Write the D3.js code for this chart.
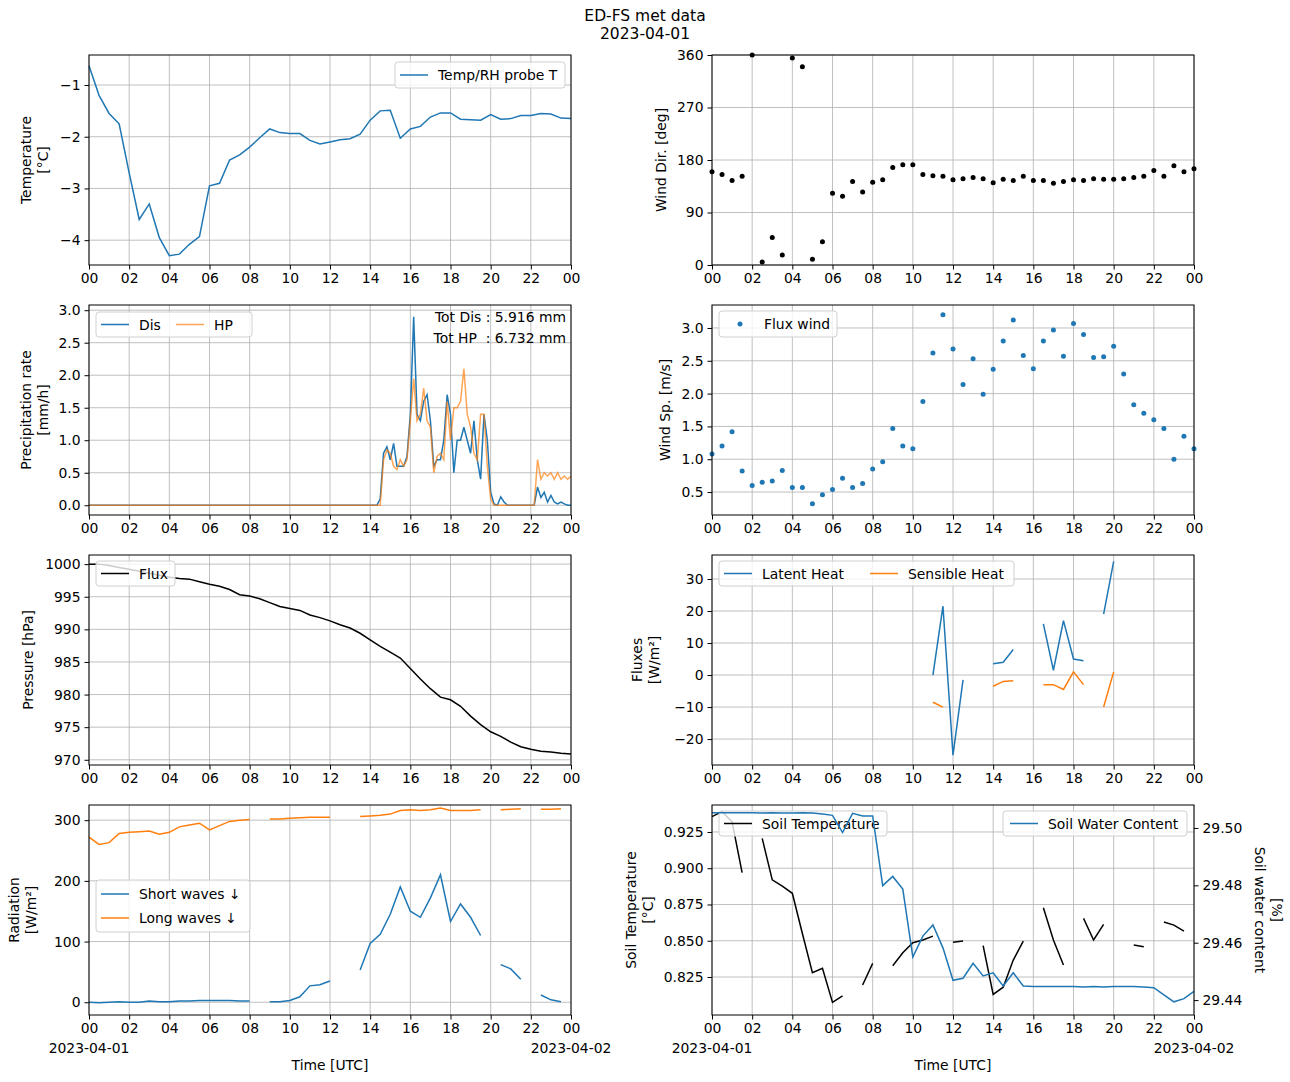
<!DOCTYPE html>
<html>
<head>
<meta charset="utf-8">
<script src="https://cdn.jsdelivr.net/npm/d3@7"></script>
<style>
  body { margin: 0; background: #fff; }
  text { font-family: "DejaVu Sans", sans-serif; fill: #000; }
</style>
</head>
<body>
<svg id="chart" width="1290" height="1082"></svg>
<script>
// half-hourly series, hour 0 .. 24
const hours = d3.range(0, 24.5, 0.5)
const tempT = [-0.63,-1.2,-1.55,-1.75,-2.7,-3.6,-3.3,-3.95,-4.3,-4.27,-4.08,-3.93,-2.95,-2.9,-2.45,-2.35,-2.2,-2.02,-1.85,-1.92,-1.94,-1.94,-2.07,-2.14,-2.1,-2.06,-2.04,-1.95,-1.68,-1.5,-1.49,-2.03,-1.85,-1.8,-1.62,-1.54,-1.54,-1.66,-1.67,-1.68,-1.57,-1.66,-1.65,-1.59,-1.59,-1.55,-1.56,-1.64,-1.65]
const windDir = [160,155,145,152,360,5,47,17,355,340,10,40,123,118,143,125,142,146,167,172,172,155,153,152,146,148,150,148,141,147,145,152,145,145,140,143,146,145,148,147,147,148,150,152,162,152,170,160,165]
const windSp = [1.08,1.2,1.42,0.82,0.6,0.65,0.67,0.83,0.57,0.57,0.32,0.46,0.54,0.71,0.57,0.63,0.85,0.96,1.47,1.2,1.16,1.88,2.62,3.2,2.68,2.14,2.53,1.99,2.37,2.8,3.12,2.58,2.38,2.8,2.97,2.57,3.07,2.9,2.55,2.56,2.72,2.3,1.83,1.7,1.6,1.47,1.0,1.35,1.16]
const pressure = [1000,1000,999.8,999.5,999.2,998.9,998.6,998.3,998,997.8,997.7,997.3,996.9,996.6,996.1,995.3,995.1,994.7,994.1,993.5,993.2,992.9,992.2,991.8,991.3,990.7,990.2,989.4,988.4,987.4,986.5,985.6,984.0,982.4,980.9,979.6,979.2,978.2,976.7,975.4,974.3,973.6,972.7,972.0,971.6,971.3,971.2,971.0,970.9]
const N = null
const latentHeat = [N,N,N,N,N,N,N,N,N,N,N,N,N,N,N,N,N,N,N,N,N,N,0,21.5,-25,-1.5,N,N,3.5,4,8,N,N,16,1.5,17,5,4.5,N,19,35.5,N,N,N,N,N,N,N,N]
const sensibleHeat = [N,N,N,N,N,N,N,N,N,N,N,N,N,N,N,N,N,N,N,N,N,N,-8.5,-10,N,N,N,N,-3.5,-2,-1.8,N,N,-3,-3,-4.5,1,-3,N,-10,1,N,N,N,N,N,N,N,N]
const shortWaves = [0,-1,0,1,0,0,2,1,1,2,2,3,3,3,3,2,2,N,1,1,3,9,27,29,35,N,N,53,97,112,145,190,150,140,172,210,133,162,140,110,N,62,55,38,N,12,4,1,N]
const longWaves = [272,260,263,278,280,281,282,277,280,289,292,295,284,291,298,300,301,N,302,302,303,304,305,305,305,N,N,306,307,308,310,316,317,316,317,320,316,316,316,317,N,317,318,319,N,318,318,319,N]
const soilTemp = [0.9356,0.939,0.932,0.897,N,0.9206,0.892,0.8877,0.8827,0.855,0.828,0.831,0.8075,0.812,N,0.8195,0.8344,N,0.8328,0.8417,0.8486,0.8505,0.8532,N,0.849,0.8498,N,0.8466,0.813,0.818,0.8367,0.8498,N,0.8728,0.8505,0.8333,N,0.8654,0.8505,0.8613,N,N,0.847,0.8459,N,0.8629,0.8608,0.8567,N]
const soilWater = [29.5053,29.5053,29.5053,29.5053,29.5053,29.5052,29.5053,29.5052,29.5052,29.5053,29.5052,29.5049,29.5044,29.4984,29.5051,29.5042,29.5042,29.4799,29.4831,29.4787,29.455,29.4623,29.4662,29.4582,29.4469,29.4476,29.4528,29.4484,29.4495,29.4449,29.4495,29.4449,29.4447,29.4447,29.4447,29.4447,29.4447,29.4446,29.4447,29.4446,29.4447,29.4447,29.4447,29.4446,29.4443,29.4418,29.4394,29.4405,29.443]
// precipitation, 10-min steps from 14:30 to 24:00 (zero before)
const precipStart = 14.5
const precipDis = [0.1,0.8,0.9,0.7,0.95,0.6,0.6,0.6,0.75,1.4,2.9,1.4,1.3,1.6,1.7,1.3,0.6,0.7,0.7,1.0,1.7,1.4,0.5,1.0,1.0,1.2,1.0,0.8,1.3,0.7,0.4,1.4,1.0,0.2,0.02,0,0.13,0.05,0,0,0,0,0,0,0,0,0,0.28,0.12,0.2,0.05,0.15,0.05,0.02,0.05,0.02,0,0]
const precipHP = [0,0.7,0.85,0.8,0.6,0.55,0.7,0.6,0.7,1.3,1.95,1.3,1.4,1.8,1.3,1.2,0.5,0.75,0.8,0.7,1.6,1.0,1.5,1.5,1.6,2.1,1.4,1.2,0.8,0.7,1.4,1.4,0.6,0.1,0,0,0,0,0,0,0,0,0,0,0,0,0,0.7,0.4,0.5,0.45,0.5,0.4,0.5,0.4,0.45,0.4,0.45,0.25]
const hourTicks = d3.range(0, 25, 2)

const blue = '#1f77b4', orange = '#ff7f0e'
const FS = '13.9px'
const svg = d3.select('#chart')
const W = 482, H = 210
const colX = [89, 712], rowY = [55, 305, 555, 805]

svg.append('text').attr('x', 645).attr('y', 21).attr('text-anchor', 'middle').attr('font-size', '15.5px').text('ED-FS met data')
svg.append('text').attr('x', 645).attr('y', 39).attr('text-anchor', 'middle').attr('font-size', '15.5px').text('2023-04-01')

const minus = s => s.replace('-', '\u2212')

function panel(col, row, yDomain, yTicks, yFmt, labelLines, labelX, bottom) {
    const g = svg.append('g').attr('transform', `translate(${colX[col]},${rowY[row]})`)
    const x = d3.scaleLinear().domain([0, 24]).range([0, W])
    const y = d3.scaleLinear().domain(yDomain).range([H, 0])
    // grid
    g.append('g').selectAll('line').data(hourTicks).join('line')
        .attr('x1', d => x(d)).attr('x2', d => x(d)).attr('y1', 0).attr('y2', H)
        .attr('stroke', '#b0b0b0').attr('stroke-width', 0.8)
    g.append('g').selectAll('line').data(yTicks).join('line')
        .attr('y1', d => y(d)).attr('y2', d => y(d)).attr('x1', 0).attr('x2', W)
        .attr('stroke', '#b0b0b0').attr('stroke-width', 0.8)
    const xa = g.append('g').attr('transform', `translate(0,${H})`)
        .call(d3.axisBottom(x).tickValues(hourTicks).tickSize(4.5).tickPadding(4)
            .tickFormat(d => String(d % 24).padStart(2, '0')))
    const ya = g.append('g').call(d3.axisLeft(y).tickValues(yTicks).tickSize(4.5).tickPadding(4).tickFormat(d => minus(yFmt(d))))
    ;[xa, ya].forEach(a => { a.select('.domain').remove(); a.selectAll('text').attr('font-size', FS).attr('font-family', 'DejaVu Sans') })
    if (bottom) {
        g.append('text').attr('x', 0).attr('y', H + 38).attr('text-anchor', 'middle').attr('font-size', FS).text('2023-04-01')
        g.append('text').attr('x', W).attr('y', H + 38).attr('text-anchor', 'middle').attr('font-size', FS).text('2023-04-02')
        g.append('text').attr('x', W / 2).attr('y', H + 55).attr('text-anchor', 'middle').attr('font-size', FS).text('Time [UTC]')
    }
    labelLines.forEach((t, i) => {
        g.append('text').attr('transform', `translate(${labelX + i * 17},${H / 2}) rotate(-90)`)
            .attr('text-anchor', 'middle').attr('font-size', FS).text(t)
    })
    const plot = g.append('g')
    g.append('rect').attr('width', W).attr('height', H).attr('fill', 'none').attr('stroke', '#000').attr('stroke-width', 1)
    return { g, plot, x, y }
}

function line(p, xs, vals, color, opacity, yScale) {
    const ys = yScale || p.y
    p.plot.append('path').datum(vals.map((v, i) => [xs[i], v]))
        .attr('d', d3.line().defined(d => d[1] !== null).x(d => p.x(d[0])).y(d => ys(d[1])))
        .attr('fill', 'none').attr('stroke', color).attr('stroke-width', 1.5).attr('opacity', opacity || 1)
}

function legend(p, x, y, w, h, items) {
    const lg = p.plot.append('g').attr('transform', `translate(${x},${y})`)
    lg.append('rect').attr('width', w).attr('height', h).attr('rx', 3).attr('fill', '#fff').attr('fill-opacity', 0.8).attr('stroke', '#d0d0d0')
    items.forEach(it => {
        if (it.dot) lg.append('circle').attr('cx', it.x + 14).attr('cy', it.y).attr('r', 2.5).attr('fill', it.color)
        else lg.append('line').attr('x1', it.x).attr('x2', it.x + 28).attr('y1', it.y).attr('y2', it.y).attr('stroke', it.color).attr('stroke-width', 1.5).attr('opacity', it.opacity || 1)
        lg.append('text').attr('x', it.x + 38).attr('y', it.y + 5).attr('font-size', FS).text(it.label)
    })
}

const f1 = d3.format('.1f'), f0 = d3.format('d')

// temperature
const pT = panel(0, 0, [-4.48, -0.42], [-4, -3, -2, -1], f0, ['Temperature', '[°C]'], -58, false)
line(pT, hours, tempT, blue)
legend(pT, 306, 7, 170, 26, [{ x: 5, y: 13, color: blue, label: 'Temp/RH probe T' }])

// wind direction
const pWD = panel(1, 0, [0, 360], [0, 90, 180, 270, 360], f0, ['Wind Dir. [deg]'], -46, false)
pWD.plot.selectAll('circle').data(windDir).join('circle')
    .attr('cx', (d, i) => pWD.x(hours[i])).attr('cy', d => pWD.y(d)).attr('r', 2.5).attr('fill', '#000')

// precipitation
const pP = panel(0, 1, [-0.15, 3.08], [0, 0.5, 1, 1.5, 2, 2.5, 3], f1, ['Precipitation rate', '[mm/h]'], -58, false)
const pHours = precipDis.map((d, i) => precipStart + i / 6)
line(pP, [0, precipStart - 1 / 6].concat(pHours), [0, 0].concat(precipDis), blue)
line(pP, [0, precipStart - 1 / 6].concat(pHours), [0, 0].concat(precipHP), orange, 0.7)
legend(pP, 7, 7, 156, 25, [{ x: 5, y: 12.5, color: blue, label: 'Dis' }, { x: 80, y: 12.5, color: orange, opacity: 0.7, label: 'HP' }])
pP.g.append('text').attr('x', W - 5).attr('y', 17).attr('text-anchor', 'end').attr('font-size', FS).attr('xml:space', 'preserve').text('Tot Dis : 5.916 mm')
pP.g.append('text').attr('x', W - 5).attr('y', 38).attr('text-anchor', 'end').attr('font-size', FS).attr('xml:space', 'preserve').text('Tot HP  : 6.732 mm')

// wind speed
const pWS = panel(1, 1, [0.15, 3.35], [0.5, 1, 1.5, 2, 2.5, 3], f1, ['Wind Sp. [m/s]'], -42, false)
pWS.plot.selectAll('circle').data(windSp).join('circle')
    .attr('cx', (d, i) => pWS.x(hours[i])).attr('cy', d => pWS.y(d)).attr('r', 2.5).attr('fill', blue)
legend(pWS, 7, 6, 118, 26, [{ x: 7, y: 13, color: blue, dot: true, label: 'Flux wind' }])

// pressure
const pPr = panel(0, 2, [969.2, 1001.4], [970, 975, 980, 985, 990, 995, 1000], f0, ['Pressure [hPa]'], -56, false)
line(pPr, hours, pressure, '#000')
legend(pPr, 7, 6, 79, 25, [{ x: 5, y: 12.5, color: '#000', label: 'Flux' }])

// fluxes
const pF = panel(1, 2, [-28.1, 37.5], [-20, -10, 0, 10, 20, 30], f0, ['Fluxes', '[W/m²]'], -70, false)
line(pF, hours, latentHeat, blue)
line(pF, hours, sensibleHeat, orange)
legend(pF, 7, 6, 295, 25, [{ x: 5, y: 12.5, color: blue, label: 'Latent Heat' }, { x: 151, y: 12.5, color: orange, label: 'Sensible Heat' }])

// radiation
const pR = panel(0, 3, [-21, 325], [0, 100, 200, 300], f0, ['Radiation', '[W/m²]'], -70, true)
line(pR, hours, shortWaves, blue)
line(pR, hours, longWaves, orange)
legend(pR, 7, 75, 154, 52, [{ x: 5, y: 14, color: blue, label: 'Short waves \u2193' }, { x: 5, y: 38, color: orange, label: 'Long waves \u2193' }])

// soil
const pS = panel(1, 3, [0.7988, 0.9436], [0.825, 0.85, 0.875, 0.9, 0.925], d3.format('.3f'), ['Soil Temperature', '[°C]'], -76, true)
const yW = d3.scaleLinear().domain([29.4348, 29.508]).range([H, 0])
const ra = pS.g.append('g').attr('transform', `translate(${W},0)`)
    .call(d3.axisRight(yW).tickValues([29.44, 29.46, 29.48, 29.5]).tickSize(4.5).tickPadding(4).tickFormat(d3.format('.2f')))
ra.select('.domain').remove()
ra.selectAll('text').attr('font-size', FS).attr('font-family', 'DejaVu Sans')
;['Soil water content', '[%]'].forEach((t, i) => {
    pS.g.append('text').attr('transform', `translate(${W + 61 + i * 17},${H / 2}) rotate(90)`)
        .attr('text-anchor', 'middle').attr('font-size', FS).text(t)
})
line(pS, hours, soilTemp, '#000')
legend(pS, 7, 6, 168, 25, [{ x: 5, y: 12.5, color: '#000', label: 'Soil Temperature' }])
line(pS, hours, soilWater, blue, 1, yW)
legend(pS, 291, 6, 184, 25, [{ x: 7, y: 12.5, color: blue, label: 'Soil Water Content' }])
</script>
</body>
</html>
